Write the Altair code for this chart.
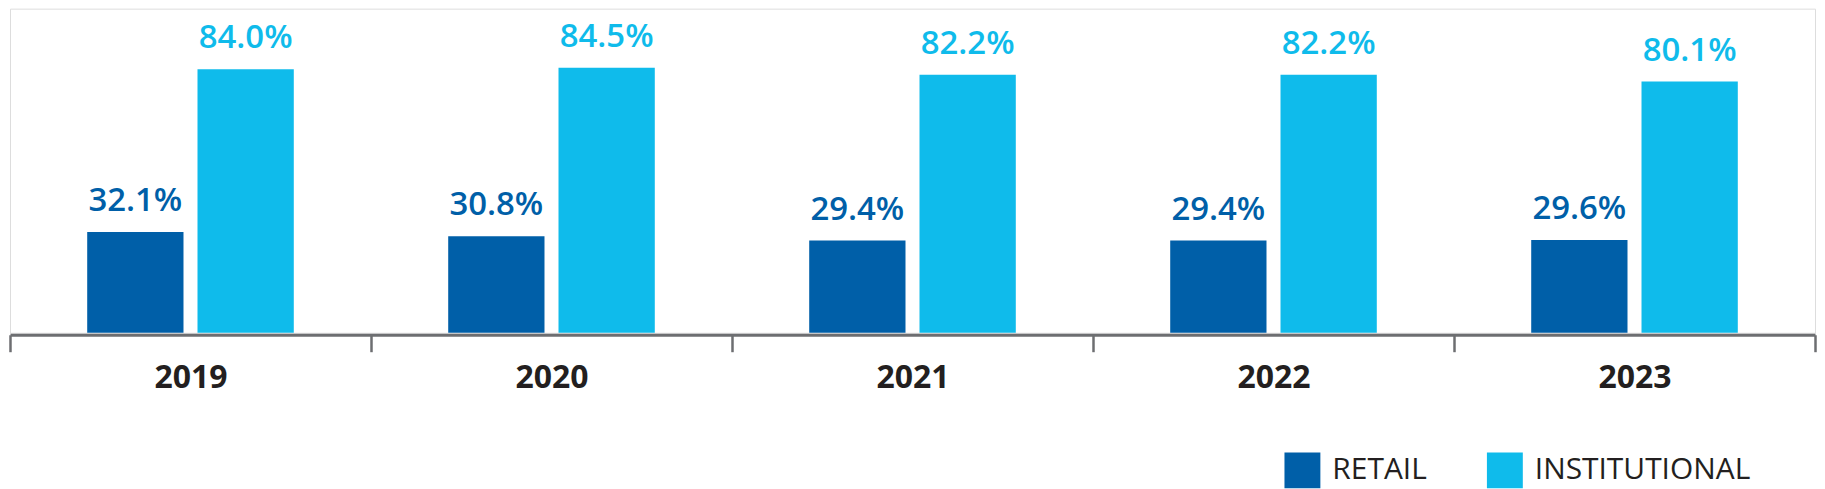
import altair as alt
import pandas as pd

years = ["2019", "2020", "2021", "2022", "2023"]
retail = [32.1, 30.8, 29.4, 29.4, 29.6]
institutional = [84.0, 84.5, 82.2, 82.2, 80.1]
series_names = ["RETAIL", "INSTITUTIONAL"]
series_colors = ["#005fa8", "#0fbbeb"]

rows = []
for i, y in enumerate(years):
    rows.append({"year": y, "series": series_names[0], "value": retail[i]})
    rows.append({"year": y, "series": series_names[1], "value": institutional[i]})
df = pd.DataFrame(rows)

FONT = "Open Sans"

x_enc = alt.X(
    "year:N",
    sort=years,
    title=None,
    scale=alt.Scale(paddingInner=0, paddingOuter=0),
    axis=alt.Axis(
        tickBand="extent",
        labelAngle=0,
        labelFont=FONT,
        labelFontSize=32,
        labelFontWeight="bold",
        labelColor="#231f20",
        labelPadding=11,
        tickSize=17,
        tickWidth=2.5,
        tickColor="#6d6e71",
        domainColor="#6d6e71",
        domainWidth=3,
        offset=2,
        grid=False,
    ),
)
xoff_enc = alt.XOffset(
    "series:N",
    sort=series_names,
    scale=alt.Scale(domain=series_names, paddingInner=0.127, paddingOuter=0.70),
)
y_enc = alt.Y(
    "value:Q",
    scale=alt.Scale(domain=[0, 103.3], nice=False, zero=True),
    axis=None,
)

bars = alt.Chart(df).mark_bar().encode(
    x=x_enc,
    xOffset=xoff_enc,
    y=y_enc,
    color=alt.Color(
        "series:N",
        sort=series_names,
        scale=alt.Scale(domain=series_names, range=series_colors),
        legend=alt.Legend(
            title=None,
            orient="none",
            legendX=1278,
            legendY=445,
            direction="horizontal",
            symbolType="square",
            symbolSize=1296,
            symbolStrokeWidth=0,
            symbolOpacity=1,
            labelFont=FONT,
            labelFontSize=30,
            labelColor="#231f20",
            labelOffset=12,
            labelLimit=400,
            columnPadding=60,
            padding=0,
        ),
    ),
)

labels = alt.Chart(df).transform_calculate(
    label="format(datum.value, '.1f') + '%'"
).mark_text(
    baseline="alphabetic",
    align="center",
    dy=-21,
    font=FONT,
    fontSize=33,
    fontWeight=600,
).encode(
    x=x_enc,
    xOffset=xoff_enc,
    y=y_enc,
    text="label:N",
    color=alt.Color(
        "series:N",
        sort=series_names,
        scale=alt.Scale(domain=series_names, range=series_colors),
        legend=None,
    ),
)

chart = (
    alt.layer(bars, labels)
    .resolve_scale(color="independent")
    .properties(width=1810, height=325, padding={"left": 0, "top": 0, "right": 0, "bottom": 0})
    .configure_view(stroke=None)
    .configure(background="white")
)

chart.save("out.html", embed_options={"renderer": "svg", "actions": False})
